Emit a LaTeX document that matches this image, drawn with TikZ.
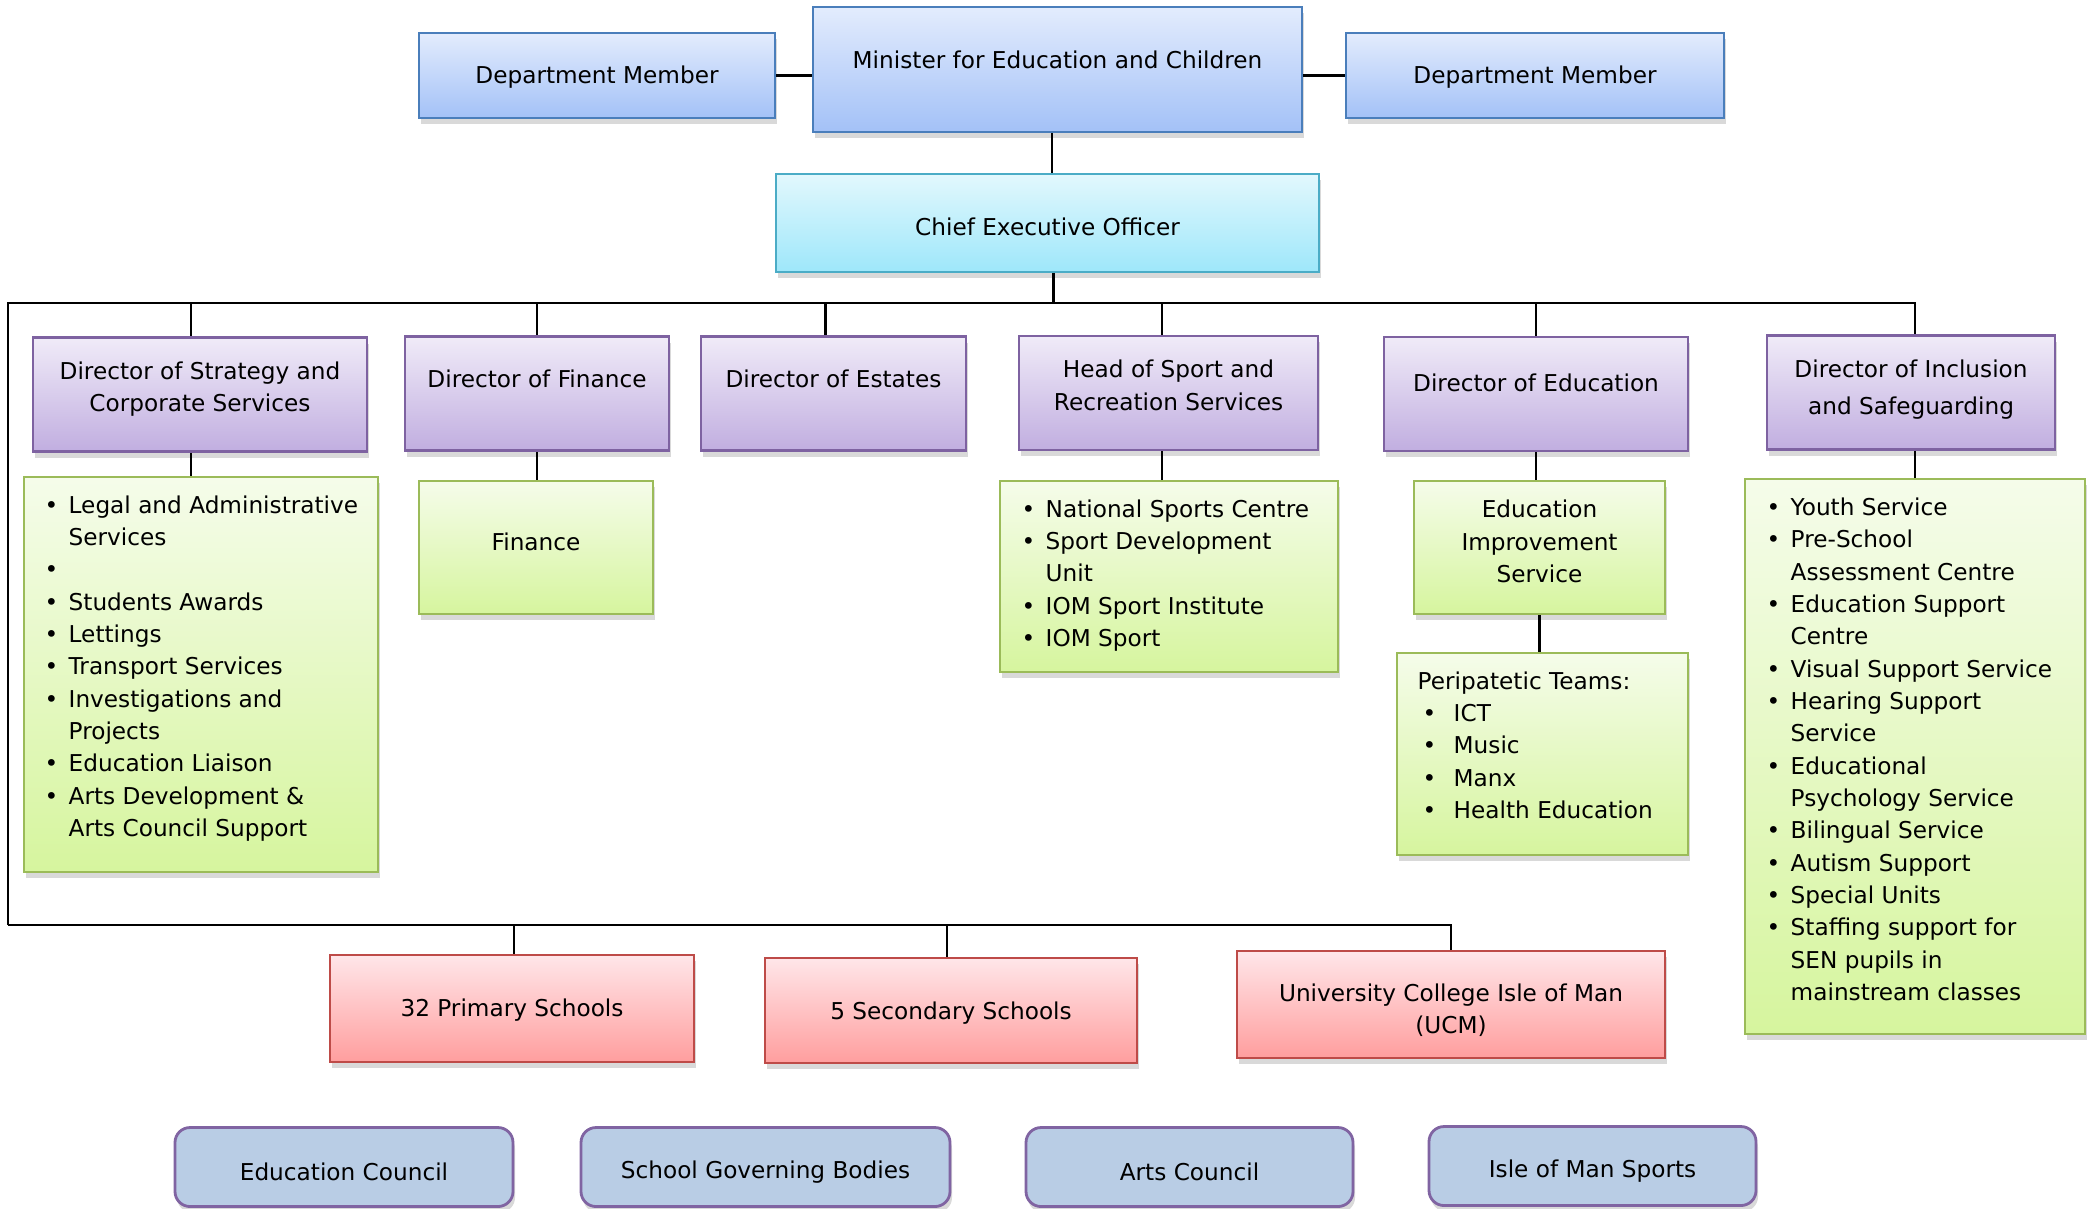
\documentclass[tikz,border=0pt]{standalone}
\usepackage{fontspec}
\setmainfont{DejaVu Sans}
\usetikzlibrary{shadows}

\definecolor{blutop}{HTML}{E3ECFD}
\definecolor{blubot}{HTML}{A3C1F7}
\definecolor{bluline}{HTML}{4A7EBB}
\definecolor{ceotop}{HTML}{E2F8FD}
\definecolor{ceobot}{HTML}{9EE7FA}
\definecolor{ceoline}{HTML}{4BACC6}
\definecolor{dirtop}{HTML}{F0EBF8}
\definecolor{dirbot}{HTML}{C1AEE0}
\definecolor{dirline}{HTML}{7E62A1}
\definecolor{unittop}{HTML}{F5FCEA}
\definecolor{unitbot}{HTML}{D6F59E}
\definecolor{unitline}{HTML}{9BBB59}
\definecolor{schtop}{HTML}{FFE6E9}
\definecolor{schbot}{HTML}{FF9E9E}
\definecolor{schline}{HTML}{BE4B48}
\definecolor{bodyfill}{HTML}{B9CDE5}
\definecolor{bodyline}{HTML}{8064A2}

% bullet cells for the lists
\newcommand{\blt}{\makebox[0.19cm][l]{\hspace*{-0.05cm}\textbullet}}
\newcommand{\bltw}{\hspace*{0.05cm}\makebox[0.31cm][l]{\textbullet}}

\begin{document}
\begin{tikzpicture}[x=1cm,y=-1cm,
  font=\fontsize{6.6}{9.2}\selectfont,
  orgbox/.style={draw,rectangle,line width=0.8pt,align=center,inner sep=2pt,
    drop shadow={opacity=0.3,shadow xshift=0.02cm,shadow yshift=-0.06cm}},
  topbox/.style={orgbox,draw=bluline,top color=blutop,bottom color=blubot,minimum height=0.85cm},
  ceobox/.style={orgbox,draw=ceoline,top color=ceotop,bottom color=ceobot},
  dirbox/.style={orgbox,draw=dirline,top color=dirtop,bottom color=dirbot,minimum height=1.14cm},
  unitbox/.style={orgbox,draw=unitline,top color=unittop,bottom color=unitbot},
  schoolbox/.style={orgbox,draw=schline,top color=schtop,bottom color=schbot},
  boardbox/.style={orgbox,draw=bodyline,fill=bodyfill,rounded corners=0.15cm,minimum height=0.79cm,text height=8pt},
  items/.style={anchor=base west,inner sep=0pt},
  link/.style={line width=0.7pt}]
  \useasboundingbox (0,0) rectangle (20.94,12.08);

  % top level
  \node[topbox,minimum width=3.56cm,text height=5.8pt] (dmL) at (5.97,0.755) {Department Member};
  \node[topbox,minimum width=4.89cm,minimum height=1.25cm,text depth=5.4pt] (min) at (10.575,0.695) {Minister for Education and Children};
  \node[topbox,minimum width=3.78cm,text height=5.8pt] (dmR) at (15.35,0.755) {Department Member};
  \node[ceobox,minimum width=5.43cm,minimum height=0.98cm,text height=7.3pt] (ceo) at (10.475,2.23) {Chief Executive Officer};

  % directors
  \node[dirbox,minimum width=3.34cm,text depth=4.5pt] (dstrat) at (2.00,3.945) {Director of Strategy and\\Corporate Services};
  \node[dirbox,minimum width=2.64cm,text depth=8.5pt] (dfin) at (5.37,3.935) {Director of Finance};
  \node[dirbox,minimum width=2.65cm,text depth=8.5pt] (dest) at (8.335,3.935) {Director of Estates};
  \node[dirbox,minimum width=2.99cm,text depth=4.5pt] (dsport) at (11.685,3.93) {Head of Sport and\\Recreation Services};
  \node[dirbox,minimum width=3.04cm,text depth=6.5pt] (dedu) at (15.36,3.94) {Director of Education};
  \node[dirbox,minimum width=2.88cm,text depth=3pt] (dinc) at (19.11,3.925) {Director of Inclusion\\[1.5pt]and Safeguarding};

  % units
  \node[unitbox,minimum width=3.54cm,minimum height=3.95cm] (gstrat) at (2.01,6.745) {};
  \node[items] (strat items) at (0.49,5.13) {\begin{tabular}[t]{@{}l@{}l@{}}
    \blt & Legal and Administrative\\
         & Services\\
    \blt & \\
    \blt & Students Awards\\
    \blt & Lettings\\
    \blt & Transport Services\\
    \blt & Investigations and\\
         & Projects\\
    \blt & Education Liaison\\
    \blt & Arts Development \&\\
         & Arts Council Support
  \end{tabular}};
  \node[unitbox,minimum width=2.34cm,minimum height=1.33cm,text depth=3.5pt] (gfin) at (5.36,5.475) {Finance};
  \node[unitbox,minimum width=3.38cm,minimum height=1.91cm] (gsport) at (11.69,5.765) {};
  \node[items] (sport items) at (10.26,5.17) {\begin{tabular}[t]{@{}l@{}l@{}}
    \blt & National Sports Centre\\
    \blt & Sport Development\\
         & Unit\\
    \blt & IOM Sport Institute\\
    \blt & IOM Sport
  \end{tabular}};
  \node[unitbox,minimum width=2.51cm,minimum height=1.33cm,text depth=3.5pt] (geis) at (15.395,5.475) {Education\\Improvement\\Service};
  \node[unitbox,minimum width=2.91cm,minimum height=2.02cm] (gperi) at (15.425,7.54) {};
  \node[items] (peri items) at (14.17,6.89) {\begin{tabular}[t]{@{}l@{}l@{}}
    \multicolumn{2}{@{}l@{}}{Peripatetic Teams:}\\
    \bltw & ICT\\
    \bltw & Music\\
    \bltw & Manx\\
    \bltw & Health Education
  \end{tabular}};
  \node[unitbox,minimum width=3.40cm,minimum height=5.55cm] (ginc) at (19.15,7.565) {};
  \node[items] (inc items) at (17.71,5.155) {\begin{tabular}[t]{@{}l@{}l@{}}
    \blt & Youth Service\\
    \blt & Pre-School\\
         & Assessment Centre\\
    \blt & Education Support\\
         & Centre\\
    \blt & Visual Support Service\\
    \blt & Hearing Support\\
         & Service\\
    \blt & Educational\\
         & Psychology Service\\
    \blt & Bilingual Service\\
    \blt & Autism Support\\
    \blt & Special Units\\
    \blt & Staffing support for\\
         & SEN pupils in\\
         & mainstream classes
  \end{tabular}};

  % schools
  \node[schoolbox,minimum width=3.64cm,minimum height=1.07cm,text height=5.8pt] (rprim) at (5.12,10.085) {32 Primary Schools};
  \node[schoolbox,minimum width=3.72cm,minimum height=1.05cm,text height=6.5pt] (rsec) at (9.51,10.105) {5 Secondary Schools};
  \node[schoolbox,minimum width=4.28cm,minimum height=1.07cm,text height=16.5pt,text depth=0pt] (rucm) at (14.51,10.045) {University College Isle of Man\\(UCM)};

  % bodies
  \node[boardbox,minimum width=3.38cm] (educouncil) at (3.44,11.67) {Education Council};
  \node[boardbox,minimum width=3.69cm] (governors) at (7.655,11.67) {School Governing Bodies};
  \node[boardbox,minimum width=3.27cm] (artscouncil) at (11.895,11.67) {Arts Council};
  \node[boardbox,minimum width=3.27cm] (iomsports) at (15.925,11.66) {Isle of Man Sports};

  % connectors
  \coordinate (busL) at (0.08,3.03);
  \coordinate (lowL) at (0.08,9.25);
  \coordinate (minx) at ([xshift=-0.055cm]min.south);
  \coordinate (ceox) at ([xshift=0.06cm]ceo.south);
  \coordinate (stratx) at ([xshift=-0.09cm]dstrat.north);
  \coordinate (estx) at ([xshift=-0.08cm]dest.north);
  \coordinate (sportx) at ([xshift=-0.065cm]dsport.north);
  \coordinate (incx) at ([xshift=0.04cm]dinc.north);
  \draw[link] (dmL.east) -- (dmL.east -| min.west);
  \draw[link] (dmR.west) -- (dmR.west -| min.east);
  \draw[link] (minx) -- (minx |- ceo.north);
  \draw[link] (ceox) -- (ceox |- busL);
  \draw[link] (lowL) -- (busL) -- (busL -| incx) -- (incx);
  \foreach \d in {stratx,dfin.north,estx,sportx,dedu.north}
    \draw[link] (busL -| \d) -- (\d);
  \draw[link] (stratx |- dstrat.south) -- (stratx |- gstrat.north);
  \draw[link] (dfin.south) -- (dfin.south |- gfin.north);
  \draw[link] (sportx |- dsport.south) -- (sportx |- gsport.north);
  \draw[link] (dedu.south) -- (dedu.south |- geis.north);
  \draw[link] (geis.south) -- (geis.south |- gperi.north);
  \draw[link] (incx |- dinc.south) -- (incx |- ginc.north);
  \draw[link] (lowL) -- (lowL -| rucm.north) -- (rucm.north);
  \draw[link] ([xshift=0.02cm]lowL -| rprim.north) -- ([xshift=0.02cm]rprim.north);
  \draw[link] ([xshift=-0.04cm]lowL -| rsec.north) -- ([xshift=-0.04cm]rsec.north);
\end{tikzpicture}
\end{document}
